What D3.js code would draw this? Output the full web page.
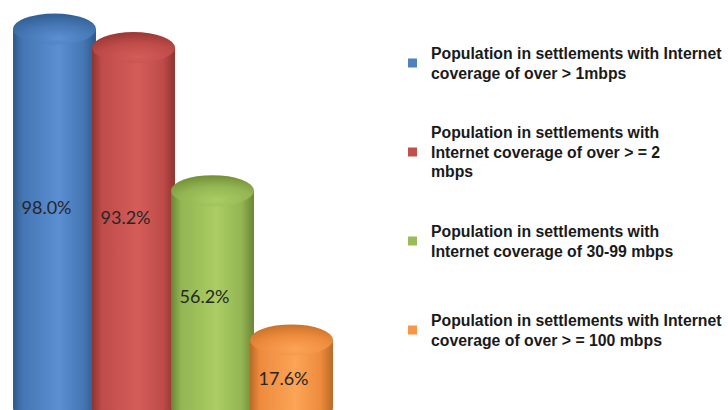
<!DOCTYPE html>
<html>
<head>
<meta charset="utf-8">
<script src="https://cdn.jsdelivr.net/npm/d3@7"></script>
<style>
  html, body { margin: 0; padding: 0; background: #ffffff; }
  svg { display: block; }
</style>
</head>
<body>
<svg id="chart" width="728" height="410"></svg>
<script>
// Series: share of population by broadband speed band
const categories = [">1mbps", ">=2mbps", "30-99mbps", ">=100mbps"];
const values = [98.0, 93.2, 56.2, 17.6];
const valueLabels = ["98.0%", "93.2%", "56.2%", "17.6%"];
const legendLines = [
  ["Population in settlements with Internet", "coverage of over > 1mbps"],
  ["Population in settlements with", "Internet coverage of over > = 2", "mbps"],
  ["Population in settlements with", "Internet coverage of 30-99 mbps"],
  ["Population in settlements with Internet", "coverage of over > = 100 mbps"]
];

// Palette: [edge shade, body, highlight, legend swatch]
const palette = [
  ["#2f5888", "#4576b4", "#5b8fd3", "#4f81bd"],
  ["#8e3431", "#bf4c49", "#d45c59", "#c0504d"],
  ["#6a8535", "#93b553", "#abcd63", "#9bbb59"],
  ["#b96a27", "#ee8b3d", "#fca457", "#f79646"]
];

const W = 728, H = 410;
const svg = d3.select("#chart");
const defs = svg.append("defs");

const x = d3.scalePoint().domain(categories).range([54.5, 291.5]);
const colW = x.step() * 1.05;
const rx = colW / 2;
const ryTop = 15.5;
const ryBot = 15;
const y = d3.scaleLinear().domain([0, 100]).range([408, 21.3]);

palette.forEach((p, i) => {
  const g = defs.append("linearGradient")
    .attr("id", "body" + i).attr("x1", "0%").attr("x2", "100%").attr("y1", "0%").attr("y2", "0%");
  [[0, p[0]], [0.12, p[1]], [0.55, p[2]], [0.85, p[1]], [1, p[0]]].forEach(([o, c]) =>
    g.append("stop").attr("offset", o).attr("stop-color", c));

  const cap = defs.append("radialGradient")
    .attr("id", "cap" + i).attr("cx", "55%").attr("cy", "80%").attr("r", "75%");
  [[0, p[2]], [0.6, p[1]], [1, d3.color(p[0]).brighter(0.3).formatHex()]].forEach(([o, c]) =>
    cap.append("stop").attr("offset", o).attr("stop-color", c));
});

const cols = svg.append("g").selectAll("g")
  .data(values)
  .join("g");

cols.append("path")
  .attr("fill", (d, i) => `url(#body${i})`)
  .attr("d", (d, i) => {
    const cx = x(categories[i]);
    const l = cx - rx, r = cx + rx, t = y(d), b = y(0);
    return `M${l},${t} L${l},${b} A${rx},${ryBot} 0 0 0 ${r},${b} L${r},${t} Z`;
  });

cols.append("ellipse")
  .attr("cx", (d, i) => x(categories[i]))
  .attr("cy", d => y(d))
  .attr("rx", rx)
  .attr("ry", ryTop)
  .attr("fill", (d, i) => `url(#cap${i})`);

cols.append("text")
  .attr("x", (d, i) => x(categories[i]) - 8)
  .attr("y", d => y(d) + (y(0) - y(d)) * 0.45 + 8)
  .attr("dy", "0.35em")
  .attr("text-anchor", "middle")
  .attr("font-family", "Lato, 'Open Sans', sans-serif")
  .attr("font-size", 18)
  .attr("fill", "#262626")
  .text((d, i) => valueLabels[i]);

// Legend
const legendY = d3.scalePoint().domain(categories).range([63, 330]);
const lineH = 19.5;
const legend = svg.append("g").selectAll("g")
  .data(categories)
  .join("g")
  .attr("transform", d => `translate(408,${legendY(d)})`);

legend.append("rect")
  .attr("x", 0).attr("y", -4.5)
  .attr("width", 9).attr("height", 9)
  .attr("fill", (d, i) => palette[i][3]);

legend.append("text")
  .attr("font-family", "'Liberation Sans', Arial, sans-serif")
  .attr("font-weight", "bold")
  .attr("font-size", 15.8)
  .attr("fill", "#1a1a1a")
  .each(function(d, i) {
    const lines = legendLines[i];
    const first = 5.8 - (lines.length - 1) * lineH / 2;
    d3.select(this).selectAll("tspan")
      .data(lines)
      .join("tspan")
      .attr("x", 23)
      .attr("y", (t, k) => first + k * lineH)
      .text(t => t);
  });
</script>
</body>
</html>
